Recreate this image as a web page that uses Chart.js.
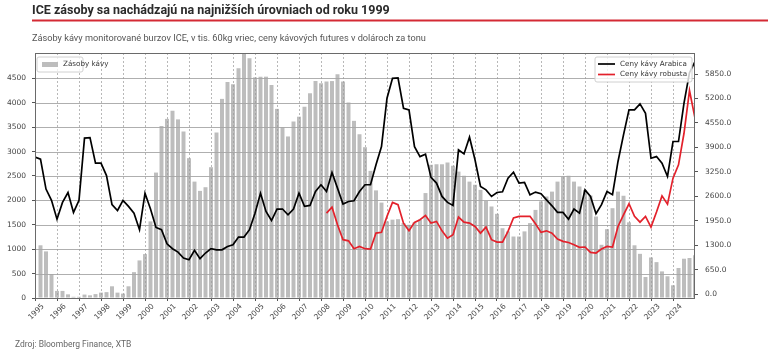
<!DOCTYPE html>
<html>
<head>
<meta charset="utf-8">
<script src="https://cdn.jsdelivr.net/npm/chart.js@4.4.1/dist/chart.umd.min.js"></script>
<style>
  html, body { margin: 0; padding: 0; background: #fff; }
</style>
</head>
<body>
<canvas id="myChart" width="768" height="353"></canvas>
<script>
const title = 'ICE zásoby sa nachádzajú na najnižších úrovniach od roku 1999';
const subtitle = 'Zásoby kávy monitorované burzov ICE, v tis. 60kg vriec, ceny kávových futures v dolároch za tonu';
const source = 'Zdroj: Bloomberg Finance, XTB';

const years = [1995, 1996, 1997, 1998, 1999, 2000, 2001, 2002, 2003, 2004,
    2005, 2006, 2007, 2008, 2009, 2010, 2011, 2012, 2013, 2014,
    2015, 2016, 2017, 2018, 2019, 2020, 2021, 2022, 2023, 2024];
const stockTicks = [0, 500, 1000, 1500, 2000, 2500, 3000, 3500, 4000, 4500];
const priceTicks = [0, 650, 1300, 1950, 2600, 3250, 3900, 4550, 5200, 5850];

// quarter-end values, first one = end of 1995 Q1 (tis. vriec)
const stockStart = 1995.25;
const stocks = [
    1080, 955, 490, 145, 145, 75, 25, 25, 70, 55,
    80, 110, 120, 240, 110, 90, 240, 530, 770, 900,
    1570, 2570, 3525, 3670, 3835, 3660, 3410, 2865, 2385, 2195,
    2270, 2680, 3390, 4080, 4425, 4380, 4710, 5000, 4910, 4520,
    4535, 4535, 4365, 3875, 3500, 3310, 3615, 3715, 3920, 4195,
    4445, 4400, 4435, 4445, 4585, 4435, 4005, 3630, 3355, 3090,
    2605, 2205, 1955, 1570, 1605, 1615, 1535, 1500, 1550, 1605,
    2150, 2730, 2740, 2740, 2775, 2710, 2590, 2505, 2385, 2320,
    2215, 1990, 1875, 1725, 1430, 1365, 1260, 1260, 1365, 1535,
    1805, 1980, 2080, 2180, 2385, 2490, 2505, 2385, 2285, 2215,
    2100, 1670, 1090, 1410, 1840, 2180, 2095, 1550, 1080, 905,
    430, 830, 735, 545, 445, 260, 615, 805, 820, 875
];

// quarter-end prices in USD/t, first one = end of 1994 Q4
const priceStart = 1995;
const arabica = [
    3640, 3585, 2790, 2490, 1990, 2435, 2700, 2170, 2490, 4145,
    4160, 3480, 3480, 3150, 2375, 2220, 2490, 2330, 2150, 1710,
    2680, 2260, 1770, 1710, 1335, 1205, 1115, 955, 910, 1160,
    940, 1090, 1205, 1175, 1175, 1265, 1310, 1515, 1515, 1710,
    2150, 2680, 2195, 1955, 2260, 2260, 2105, 2260, 2680, 2330,
    2355, 2725, 2905, 2725, 3230, 2815, 2390, 2460, 2480, 2725,
    2905, 2905, 3435, 3920, 5205, 5735, 5745, 4940, 4895, 3920,
    3655, 3720, 3100, 2950, 2595, 2435, 2355, 3835, 3725, 4170,
    3570, 2860, 2770, 2595, 2700, 2720, 3080, 3240, 2950, 2965,
    2640, 2710, 2665, 2505, 2345, 2170, 2170, 1990, 2260, 2150,
    2770, 2595, 2135, 2375, 2725, 2640, 3525, 4230, 4895, 4895,
    5055, 4805, 3610, 3655, 3480, 3125, 4055, 4055, 5075, 5885, 6180
];

// robusta series starts at end of 2008 Q1
const robustaStart = 2008.25;
const robusta = [
    2150, 2310, 1840, 1445, 1415, 1205, 1265, 1205, 1195, 1620,
    1640, 2065, 2435, 2375, 1885, 1680, 1905, 1975, 2090, 1885,
    1930, 1680, 1485, 1575, 2045, 1910, 1885, 1795, 1620, 1780,
    1445, 1380, 1380, 1665, 2020, 2065, 2065, 2065, 1870, 1640,
    1680, 1620, 1460, 1400, 1370, 1310, 1240, 1250, 1105, 1090,
    1195, 1265, 1250, 1795, 2105, 2400, 2065, 1910, 2065, 1780,
    2180, 2610, 2390, 3080, 3435, 4275, 5410, 4675
];

const toPoints = (start, values) => values.map((v, i) => ({ x: start + i / 4, y: v }));

const tickFont = { family: 'DejaVu Sans', size: 7.5 };
const tickColor = '#444';

const decor = {
    id: 'decor',
    beforeDraw(chart) {
        const ctx = chart.ctx;
        ctx.save();
        ctx.fillStyle = '#fff';
        ctx.fillRect(0, 0, chart.width, chart.height);
        ctx.textBaseline = 'alphabetic';
        ctx.fillStyle = '#2b2b2b';
        ctx.font = 'bold 12.5px Roboto';
        ctx.fillText(title, 32, 14, 370);
        ctx.fillStyle = '#d42a34';
        ctx.fillRect(32, 19.5, chart.width - 32, 2);
        ctx.fillStyle = '#555';
        ctx.font = '9.2px Roboto';
        ctx.fillText(subtitle, 32, 40.5, 400);
        ctx.fillStyle = '#666';
        ctx.font = '8.5px Roboto';
        ctx.fillText(source, 15, 347, 123);
        ctx.restore();
    },
    afterDatasetDraw(chart, args) {
        if (args.index !== 0) return;
        const { ctx, chartArea: a, scales } = chart;
        ctx.save();
        ctx.beginPath();
        ctx.rect(a.left, a.top, a.right - a.left, a.bottom - a.top);
        ctx.clip();
        ctx.strokeStyle = '#a6a6a6';
        ctx.lineWidth = 0.9;
        stockTicks.forEach(v => {
            const y = Math.round(scales.y.getPixelForValue(v)) + 0.5;
            ctx.beginPath();
            ctx.moveTo(a.left, y);
            ctx.lineTo(a.right, y);
            ctx.stroke();
        });
        ctx.setLineDash([2, 2]);
        ctx.strokeStyle = '#9a9a9a';
        ctx.lineWidth = 0.7;
        years.forEach(v => {
            const x = Math.round(scales.x.getPixelForValue(v)) + 0.5;
            ctx.beginPath();
            ctx.moveTo(x, a.top);
            ctx.lineTo(x, a.bottom);
            ctx.stroke();
        });
        ctx.restore();
    },
    afterDraw(chart) {
        const { ctx, chartArea: a } = chart;
        ctx.save();
        ctx.strokeStyle = '#6a6a6a';
        ctx.lineWidth = 1;
        ctx.strokeRect(a.left + 0.5, a.top + 0.5, a.right - a.left - 1, a.bottom - a.top);

        ctx.font = '7.2px "DejaVu Sans"';
        ctx.textBaseline = 'middle';

        // left legend
        ctx.fillStyle = 'rgba(255,255,255,0.8)';
        ctx.strokeStyle = '#d0d0d0';
        ctx.beginPath();
        ctx.roundRect(a.left + 2, a.top + 4, 46, 15, 2);
        ctx.fill();
        ctx.stroke();
        ctx.fillStyle = '#bdbdbd';
        ctx.fillRect(a.left + 7, a.top + 9, 16, 5);
        ctx.fillStyle = '#333';
        ctx.fillText('Zásoby kávy', a.left + 28, a.top + 11.5);

        // right legend
        ctx.fillStyle = 'rgba(255,255,255,0.8)';
        ctx.strokeStyle = '#d0d0d0';
        ctx.beginPath();
        ctx.roundRect(a.right - 100, a.top + 4, 97, 25, 2);
        ctx.fill();
        ctx.stroke();
        const items = [['Ceny kávy Arabica', '#000'], ['Ceny kávy robusta', '#e3212b']];
        items.forEach(([label, color], i) => {
            const y = a.top + 11 + i * 10.5;
            ctx.strokeStyle = color;
            ctx.lineWidth = 1.7;
            ctx.beginPath();
            ctx.moveTo(a.right - 97, y);
            ctx.lineTo(a.right - 80, y);
            ctx.stroke();
            ctx.fillStyle = '#333';
            ctx.fillText(label, a.right - 75, y);
        });
        ctx.restore();
    }
};

const ctx = document.getElementById('myChart');
const myChart = new Chart(ctx, {
    type: 'bar',
    data: {
        datasets: [{
            type: 'bar',
            label: 'Zásoby kávy',
            data: toPoints(stockStart, stocks),
            yAxisID: 'y',
            backgroundColor: '#bdbdbd',
            barPercentage: 0.72,
            categoryPercentage: 1,
            order: 3
        }, {
            type: 'line',
            label: 'Ceny kávy robusta',
            data: toPoints(robustaStart, robusta),
            yAxisID: 'y2',
            borderColor: '#e3212b',
            borderWidth: 1.7,
            pointRadius: 0,
            tension: 0,
            order: 1
        }, {
            type: 'line',
            label: 'Ceny kávy Arabica',
            data: toPoints(priceStart, arabica),
            yAxisID: 'y2',
            borderColor: '#000',
            borderWidth: 1.7,
            pointRadius: 0,
            tension: 0,
            order: 0
        }]
    },
    options: {
        responsive: false,
        animation: false,
        layout: { padding: { top: 53, left: 0, right: 0, bottom: 0 } },
        plugins: { legend: { display: false }, tooltip: { enabled: false } },
        scales: {
            x: {
                type: 'linear',
                min: 1995,
                max: 2025,
                offset: false,
                afterBuildTicks: s => { s.ticks = years.map(v => ({ value: v })); },
                afterFit: s => { s.height = 55; },
                grid: { drawOnChartArea: false, tickLength: 3, color: '#555', offset: false },
                border: { display: false },
                ticks: {
                    minRotation: 45, maxRotation: 45, autoSkip: false,
                    labelOffset: 8, padding: 1,
                    font: tickFont, color: tickColor,
                    callback: v => String(v)
                }
            },
            y: {
                position: 'left',
                min: 0,
                max: 5020,
                afterBuildTicks: s => { s.ticks = stockTicks.map(v => ({ value: v })); },
                afterFit: s => { s.width = 35; },
                grid: { drawOnChartArea: false, tickLength: 3, color: '#555' },
                border: { display: false },
                ticks: { padding: 6, font: tickFont, color: tickColor, callback: v => String(v) }
            },
            y2: {
                position: 'right',
                min: -106,
                max: 6409,
                afterBuildTicks: s => { s.ticks = priceTicks.map(v => ({ value: v })); },
                afterFit: s => { s.width = 73; },
                grid: { drawOnChartArea: false, tickLength: 3, color: '#555' },
                border: { display: false },
                ticks: { padding: 7, font: tickFont, color: tickColor, callback: v => v.toFixed(1) }
            }
        }
    },
    plugins: [decor]
});
</script>
</body>
</html>
